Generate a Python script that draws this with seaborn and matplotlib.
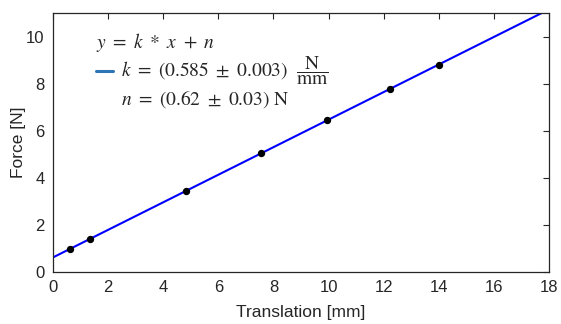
import numpy as np
import pandas as pd
import matplotlib
matplotlib.use("Agg")
import matplotlib.pyplot as plt
import seaborn as sns
from matplotlib.lines import Line2D

# data
trans = [0.62, 1.33, 4.83, 7.55, 9.94, 12.23, 14.0]
force = [0.99, 1.40, 3.46, 5.05, 6.45, 7.76, 8.77]
k_fit = 0.585
n_fit = 0.62
x_ticks = [0, 2, 4, 6, 8, 10, 12, 14, 16, 18]
y_ticks = [0, 2, 4, 6, 8, 10]

sns.set_style("white")
plt.rcParams['font.family'] = ['Liberation Sans', 'DejaVu Sans']
plt.rcParams['mathtext.fontset'] = 'stix'

fig = plt.figure(figsize=(5.61, 3.24), dpi=100)
ax = fig.add_axes([0.0945, 0.1605, 0.884, 0.7995])

xf = np.array([0.0, 18.0])
fit_df = pd.DataFrame({"x": xf, "y": k_fit * xf + n_fit})
sns.lineplot(data=fit_df, x="x", y="y", color="#0000ff", lw=1.5, ax=ax, legend=False)
pts = pd.DataFrame({"x": trans, "y": force})
sns.scatterplot(data=pts, x="x", y="y", color="black", s=28, edgecolor="black", linewidth=0, ax=ax, zorder=3, legend=False)

ax.set_xlim(0, 18)
ax.set_ylim(0, 11)
ax.set_xticks(x_ticks)
ax.set_yticks(y_ticks)
ax.tick_params(direction="in", top=True, right=True, length=4, width=0.8, labelsize=12, colors="#262626", pad=6)
for s in ax.spines.values():
    s.set_color("#262626")
    s.set_linewidth(0.9)
ax.set_xlabel("Translation [mm]", fontsize=12.5, color="#262626", labelpad=7)
ax.set_ylabel("Force [N]", fontsize=12.5, color="#262626", labelpad=0)

title = r"$y\ =\ k\ *\ x\ +\ n$"
label_k = r"$k\ =\ (0.585\ \pm\ 0.003)\ \ \dfrac{\mathrm{N}}{\mathrm{mm}}$"
label_n = r"$n\ =\ (0.62\ \pm\ 0.03)\ \mathrm{N}$"
h = Line2D([], [], color="#2e75b6", lw=2.2)
h_blank = Line2D([], [], color="none", lw=0)
leg = ax.legend([h, h_blank], [label_k, label_n], title=title, loc="upper left",
                bbox_to_anchor=(0.087, 0.93),
                frameon=False, fontsize=14, title_fontsize=14, handlelength=0.88, handletextpad=0.4,
                borderaxespad=0, borderpad=0, alignment="left", labelspacing=0.05)

fig.savefig("out.png", dpi=100)
